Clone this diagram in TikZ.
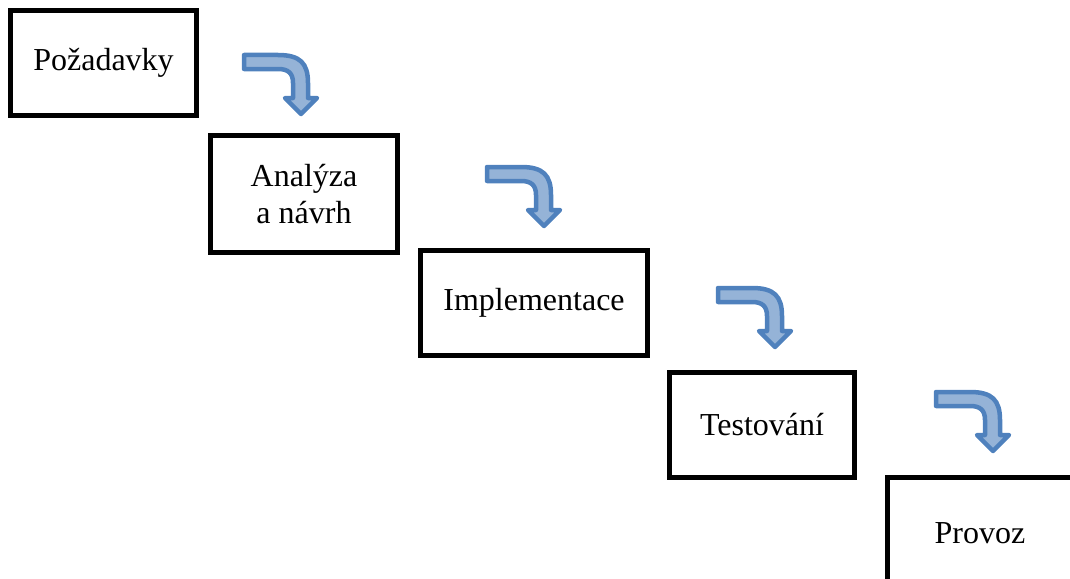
\documentclass[tikz,border=0pt]{standalone}
\usepackage{fontspec}
\setmainfont{Liberation Serif}
\definecolor{arrowfill}{HTML}{95B3D7}
\definecolor{arrowline}{HTML}{4F81BD}
\tikzset{
  stage/.style={draw=black, line width=5pt, fill=white, align=center,
    font=\fontsize{32}{37}\selectfont, inner sep=0pt},
  bentarrow/.pic={
    \draw[fill=arrowfill, draw=arrowline, line width=4.5pt, line join=round]
      (2,2) -- (36,2) .. controls (58,2) and (66,10) .. (66,30) -- (66,45)
      -- (75,45) -- (59,61) -- (43,45) -- (51,45) -- (51,30)
      .. controls (51,20) and (46,16) .. (36,16) -- (2,16) -- cycle;
  }
}
\begin{document}
\begin{tikzpicture}[x=1pt, y=-1pt]
\useasboundingbox (0,0) rectangle (1070,578);
\clip (0,0) rectangle (1070,578);
\node[stage, minimum width=186pt, minimum height=105pt] (req) at (103.5,63) {Požadavky};
\node[stage, minimum width=187pt, minimum height=117pt] (ana) at (304,194) {Analýza\\a návrh};
\node[stage, minimum width=227pt, minimum height=105pt] (impl) at (534,303) {Implementace};
\node[stage, minimum width=185pt, minimum height=105pt] (test) at (762,425) {Testování};
\node[stage, minimum width=185pt, minimum height=111pt] (prov) at (980,533) {Provoz};
\pic at (242,53) {bentarrow};
\pic at (485,165) {bentarrow};
\pic at (716,286) {bentarrow};
\pic at (934,390) {bentarrow};
\end{tikzpicture}
\end{document}
